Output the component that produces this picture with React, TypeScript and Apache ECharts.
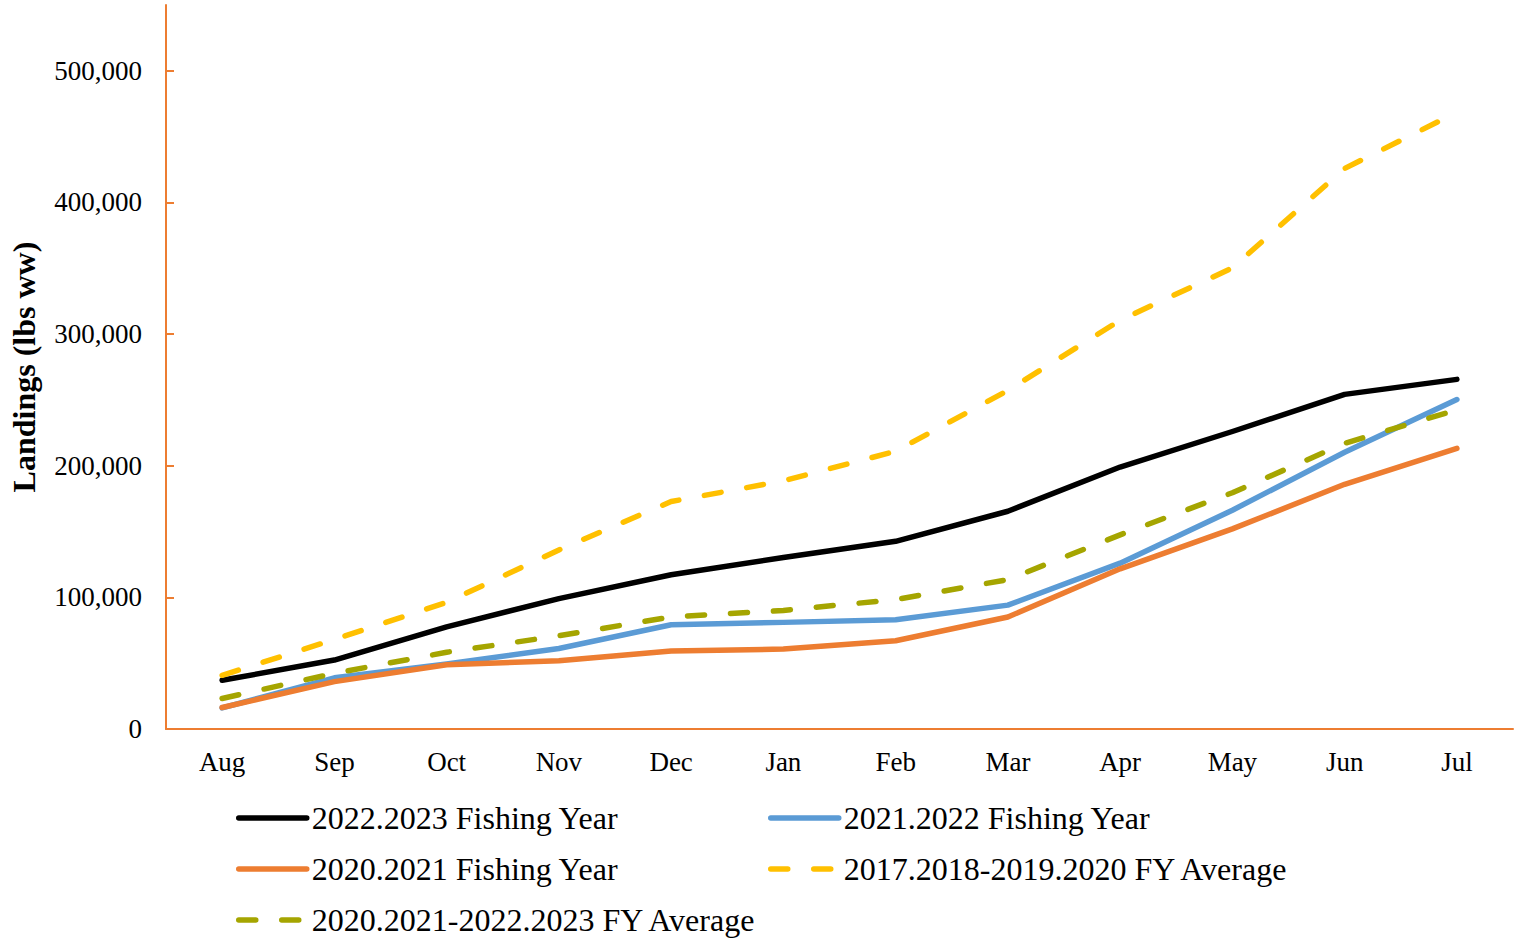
import React, { useEffect, useRef } from "react";
import * as echarts from "echarts";

const months = ["Aug", "Sep", "Oct", "Nov", "Dec", "Jan", "Feb", "Mar", "Apr", "May", "Jun", "Jul"];
const fy2022_2023 = [37000, 52400, 77600, 99000, 117200, 130300, 142600, 165400, 199000, 226000, 254200, 265600];
const fy2021_2022 = [16000, 38900, 49300, 61200, 79200, 81000, 83000, 94100, 126000, 166200, 210200, 250300];
const fy2020_2021 = [16300, 36000, 48800, 51800, 59200, 60700, 67000, 85100, 121700, 152000, 185900, 213200];
const avg2017_2020 = [40800, 68000, 96200, 136000, 172800, 188500, 211000, 257200, 310500, 350300, 425800, 468500];
const avg2020_2023 = [23200, 42300, 58300, 70800, 85200, 90100, 98300, 113500, 147500, 179500, 217000, 242500];
const yTicks = [0, 100000, 200000, 300000, 400000, 500000];

const names = [
  "2022.2023 Fishing Year",
  "2021.2022 Fishing Year",
  "2020.2021 Fishing Year",
  "2017.2018-2019.2020 FY Average",
  "2020.2021-2022.2023 FY Average",
];

const FONT = "'Liberation Serif', 'Times New Roman', serif";
const AXIS = "#ED7D31";
const LW = 5.5;

function fmt(v: number) {
  return String(v).replace(/\B(?=(\d{3})+(?!\d))/g, ",");
}

export default function App() {
  const ref = useRef<HTMLDivElement>(null);
  useEffect(() => {
    if (!ref.current) return;
    const chart = echarts.init(ref.current, null, { renderer: "svg" });
    const mk = (name: string, data: number[], color: string, dashed: boolean) => ({
      name,
      type: "line",
      data,
      symbol: "none",
      showSymbol: false,
      smooth: false,
      lineStyle: {
        color,
        width: LW,
        type: dashed ? [17, 26] : "solid",
        cap: "round",
        join: "round",
      },
      itemStyle: { color },
      z: dashed ? 3 : 2,
    });
    const legendBase = {
      orient: "vertical",
      padding: 0,
      itemWidth: 68,
      itemHeight: 14,
      itemGap: 19,
      selectedMode: false,
      itemStyle: { opacity: 0 },
      lineStyle: { width: LW, cap: "round" },
      textStyle: { fontFamily: FONT, fontSize: 32, color: "#000", lineHeight: 32 },
    };
    chart.setOption({
      animation: false,
      backgroundColor: "#fff",
      grid: { left: 165, right: 5, top: 5, bottom: 215, containLabel: false },
      legend: [
        { ...legendBase, left: 236, top: 802, data: [names[0], names[2], names[4]] },
        { ...legendBase, left: 768, top: 802, data: [names[1], names[3]] },
      ],
      xAxis: {
        type: "category",
        data: months,
        boundaryGap: true,
        axisLine: { lineStyle: { color: AXIS, width: 2 } },
        axisTick: { inside: true, length: 8, lineStyle: { color: AXIS, width: 2 } },
        axisLabel: { fontFamily: FONT, fontSize: 27, color: "#000", margin: 19 },
        splitLine: { show: false },
      },
      yAxis: {
        type: "value",
        min: 0,
        max: 550000,
        interval: 100000,
        name: "Landings (lbs ww)",
        nameLocation: "middle",
        nameGap: 126,
        nameRotate: 90,
        nameTextStyle: { fontFamily: FONT, fontSize: 32, fontWeight: "bold", color: "#000" },
        axisLine: { show: true, lineStyle: { color: AXIS, width: 2 } },
        axisTick: { show: true, inside: true, length: 8, lineStyle: { color: AXIS, width: 2 }, customValues: yTicks },
        axisLabel: {
          fontFamily: FONT,
          fontSize: 27,
          color: "#000",
          margin: 24,
          customValues: yTicks,
          formatter: (v: number) => fmt(v),
        },
        splitLine: { show: false },
      },
      series: [
        mk(names[0], fy2022_2023, "#000000", false),
        mk(names[1], fy2021_2022, "#5B9BD5", false),
        mk(names[2], fy2020_2021, "#ED7D31", false),
        mk(names[3], avg2017_2020, "#FFC000", true),
        mk(names[4], avg2020_2023, "#A5A500", true),
      ],
    });
    return () => chart.dispose();
  }, []);
  return <div ref={ref} style={{ width: 1518, height: 944, position: "absolute", left: 0, top: 0 }} />;
}
